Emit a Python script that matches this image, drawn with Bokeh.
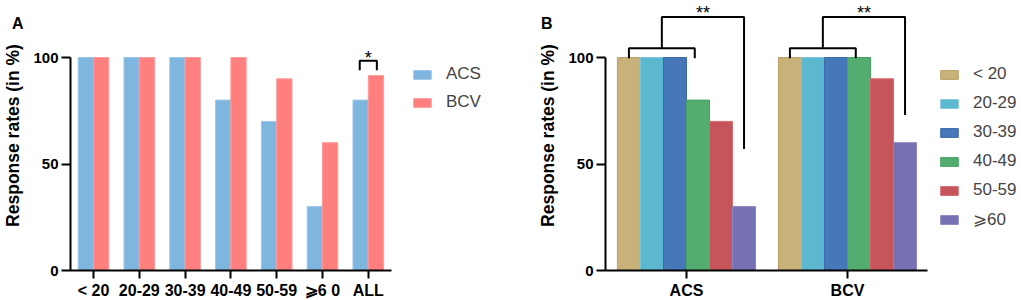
from bokeh.plotting import figure
from bokeh.layouts import row, column
from bokeh.models import ColumnDataSource, FixedTicker, Range1d, Legend, LegendItem, Div
from bokeh.transform import dodge
from bokeh.core.properties import value
from bokeh.embed import file_html
from bokeh.resources import INLINE

# ---------------- data ----------------
age_groups_a = ["< 20", "20-29", "30-39", "40-49", "50-59", "⩾6 0", "ALL"]
acs_a = [100, 100, 100, 80, 70, 30, 80]
bcv_a = [100, 100, 100, 100, 90, 60, 91.5]

methods_b = ["ACS", "BCV"]
age_groups_b = ["< 20", "20-29", "30-39", "40-49", "50-59", "⩾60"]
acs_b = [100, 100, 100, 80, 70, 30]
bcv_b = [100, 100, 100, 100, 90, 60]

FONT = "Liberation Sans"
colors_a = {"ACS": ("#7FB6E0", "#9CC6E8"), "BCV": ("#FF7F7F", "#FF9A9A")}
colors_b = [("#C9B27A", "#B9A064"), ("#5BB8CF", "#7CC6DA"), ("#4577B9", "#3A68A8"),
            ("#53AD70", "#46A062"), ("#C5555A", "#D46A6F"), ("#7571B3", "#8A86C2")]

FH = 270
PXU = 2.13
YEND = FH / PXU


def base_style(p, yticks):
    p.outline_line_color = None
    p.xgrid.grid_line_color = None
    p.ygrid.grid_line_color = None
    for ax in (p.xaxis[0], p.yaxis[0]):
        ax.axis_line_width = 2
        ax.major_tick_line_width = 2
        ax.major_tick_in = 0
        ax.minor_tick_line_color = None
        ax.major_label_text_font = FONT
        ax.major_label_text_font_style = "bold"
        ax.major_label_text_color = "black"
        ax.axis_line_color = "black"
        ax.major_tick_line_color = "black"
    p.yaxis[0].ticker = FixedTicker(ticks=yticks)
    p.yaxis[0].bounds = (0, 100)
    p.yaxis[0].major_tick_out = 9
    p.yaxis[0].major_label_standoff = 3
    p.yaxis[0].major_label_text_font_size = "15px"
    p.yaxis[0].axis_label = "Response rates (in %)"
    p.yaxis[0].axis_label_text_font = FONT
    p.yaxis[0].axis_label_text_font_style = "bold"
    p.yaxis[0].axis_label_text_font_size = "17.5px"
    p.yaxis[0].axis_label_text_color = "black"
    p.yaxis[0].axis_label_standoff = 7
    p.xaxis[0].major_tick_out = 8
    p.xaxis[0].major_label_standoff = 3
    p.xaxis[0].major_label_text_font_size = "16px"


# ---------------- panel A ----------------
xa = list(range(len(age_groups_a)))
src_a = ColumnDataSource(dict(x=xa, acs=acs_a, bcv=bcv_a))
bw_a = 0.334
xa0 = -0.502
FWA = 443

pA = figure(width=510, height=300, frame_width=FWA, frame_height=FH,
            output_backend="svg", toolbar_location=None,
            x_range=Range1d(xa0, xa0 + FWA / 45.8), y_range=Range1d(0, YEND),
            min_border_left=67, min_border_right=0, min_border_top=0, min_border_bottom=0)
base_style(pA, [0, 50, 100])
pA.xaxis[0].ticker = FixedTicker(ticks=xa)
pA.xaxis[0].major_label_overrides = {i: lab for i, lab in enumerate(age_groups_a)}
pA.xaxis[0].bounds = (-0.655, len(xa) - 0.5)

ra = pA.vbar(x=dodge("x", -bw_a / 2, range=pA.x_range), top="acs", width=bw_a, source=src_a,
             fill_color=colors_a["ACS"][0], line_color=colors_a["ACS"][1], line_width=1)
rb = pA.vbar(x=dodge("x", bw_a / 2, range=pA.x_range), top="bcv", width=bw_a, source=src_a,
             fill_color=colors_a["BCV"][0], line_color=colors_a["BCV"][1], line_width=1)

# significance bracket on "ALL"
i_all = len(xa) - 1
top_a = max(acs_a[i_all], bcv_a[i_all]) + 7
xl, xr = i_all - bw_a / 2 - 0.02, i_all + bw_a / 2 + 0.02
pA.line([xl, xl, xr, xr], [top_a - 4.5, top_a, top_a, top_a - 4.5], line_color="black", line_width=2)
pA.text(x=[(xl + xr) / 2], y=[top_a + 1.5], text=["*"], text_font=value(FONT),
        text_font_size="18px", text_align="center", text_baseline="middle", text_color="black")

legA = Legend(items=[LegendItem(label="ACS", renderers=[ra]), LegendItem(label="BCV", renderers=[rb])],
              location=(341, FH - 112.5), glyph_width=22, glyph_height=11, label_height=21,
              label_text_font=FONT, label_text_font_size="17px", label_standoff=13,
              spacing=7, padding=0, margin=0, border_line_color=None, background_fill_alpha=0)
pA.add_layout(legA)

# ---------------- panel B ----------------
xb = list(range(len(methods_b)))
bw_b = 0.143
xb0 = -0.503
FWB = 419
src_b = ColumnDataSource(dict(x=xb, **{f"v{k}": [acs_b[k], bcv_b[k]] for k in range(len(age_groups_b))}))

pB = figure(width=511, height=300, frame_width=FWB, frame_height=FH,
            output_backend="svg", toolbar_location=None,
            x_range=Range1d(xb0, xb0 + FWB / 161), y_range=Range1d(0, YEND),
            min_border_left=92, min_border_right=0, min_border_top=0, min_border_bottom=0)
base_style(pB, [0, 50, 100])
pB.xaxis[0].ticker = FixedTicker(ticks=xb)
pB.xaxis[0].major_label_overrides = {i: lab for i, lab in enumerate(methods_b)}
pB.xaxis[0].bounds = (-0.559, len(xb) - 0.5)

items_b = []
nb = len(age_groups_b)
for k, lab in enumerate(age_groups_b):
    off = (k - (nb - 1) / 2) * bw_b
    r = pB.vbar(x=dodge("x", off, range=pB.x_range), top=f"v{k}", width=bw_b, source=src_b,
                fill_color=colors_b[k][0], line_color=colors_b[k][1], line_width=1)
    items_b.append(LegendItem(label=lab, renderers=[r]))

# brackets: brace over first four bars, bracket to the last bar
drop_to = [57, 73]
for g in xb:
    vals = [acs_b, bcv_b][g]
    c0 = g + (0 - (nb - 1) / 2) * bw_b
    c3 = g + (3 - (nb - 1) / 2) * bw_b - 0.02
    c5 = g + (nb - 1 - (nb - 1) / 2) * bw_b
    brace_y = max(vals[:4]) + 4.4
    mid = (c0 + c3) / 2
    pB.line([c0, c0, c3, c3], [brace_y - 4.7, brace_y, brace_y, brace_y - 4.7],
            line_color="black", line_width=2)
    top_y = brace_y + 14.6
    pB.line([mid, mid, c5, c5], [brace_y, top_y, top_y, drop_to[g]], line_color="black", line_width=2)
    pB.text(x=[(mid + c5) / 2], y=[top_y + 1.8], text=["**"], text_font=value(FONT),
            text_font_size="18px", text_align="center", text_baseline="middle", text_color="black")

legB = Legend(items=items_b, location=(333, FH - 229.5), glyph_width=22, glyph_height=11, label_height=21,
              label_text_font=FONT, label_text_font_size="17px", label_standoff=13,
              spacing=8, padding=0, margin=0, border_line_color=None, background_fill_alpha=0)
pB.add_layout(legB)

# panel letters
letter_css = "position:absolute; top:10px; font-family:'Liberation Sans'; font-weight:bold; font-size:16px; line-height:1; color:black;"
divA = Div(text=f'<div style="{letter_css} left:7px;">A</div>', width=510, height=20)
divB = Div(text=f'<div style="{letter_css} left:16px;">B</div>', width=511, height=20)

plots = row(pA, pB, spacing=0)
letters = row(divA, divB, spacing=0, margin=(-300, 0, 0, 0))
layout = column(plots, letters, spacing=0)
open("out.html", "w").write(file_html(layout, INLINE))
